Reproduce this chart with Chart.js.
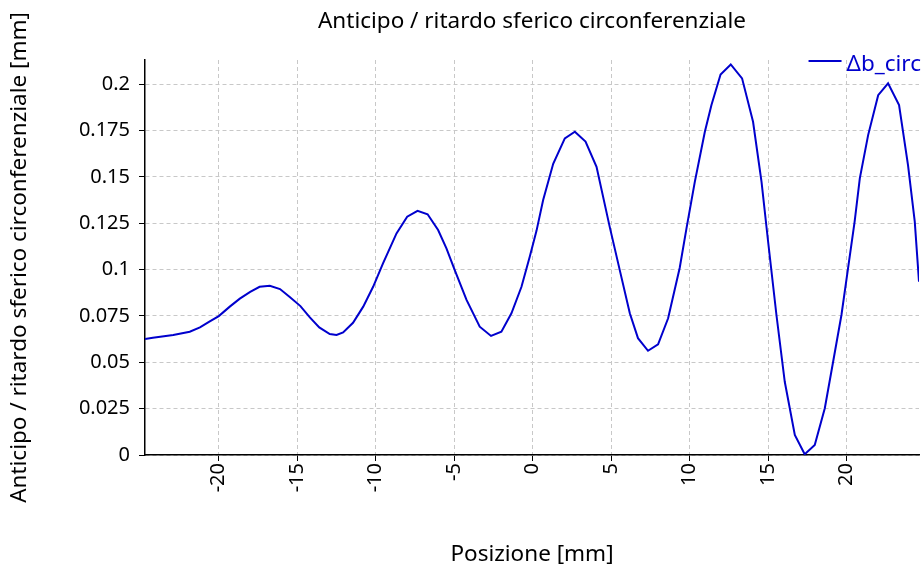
<!DOCTYPE html>
<html>
<head>
<meta charset="utf-8">
<script src="https://cdn.jsdelivr.net/npm/chart.js@4/dist/chart.umd.min.js"></script>
<style>
  html, body { margin: 0; padding: 0; background: #fff; }
  #wrap { width: 924px; height: 576px; }
</style>
</head>
<body>
<div id="wrap"><canvas id="chart" width="924" height="576"></canvas></div>
<script>
// values
const positions = [
  -24.7, -24.2, -22.9, -21.85, -21.2, -20.6, -20.0, -19.3, -18.66, -18.0,
  -17.4, -16.75, -16.1, -15.5, -14.8, -14.2, -13.6, -12.93, -12.5, -12.08,
  -11.45, -10.8, -10.17, -9.54, -8.68, -8.0, -7.34, -6.7, -6.03, -5.5,
  -4.97, -4.22, -3.38, -2.66, -2.0, -1.36, -0.72, -0.19, 0.24, 0.66,
  1.3, 2.04, 2.68, 3.36, 4.06, 4.9, 5.54, 6.18, 6.7, 7.34,
  7.98, 8.62, 9.36, 9.79, 10.32, 10.96, 11.38, 11.96, 12.61, 13.33,
  14.03, 14.57, 14.99, 15.52, 16.05, 16.69, 17.32, 17.96, 18.6, 19.13,
  19.66, 20.08, 20.5, 20.83, 21.36, 22.0, 22.63, 23.33, 23.9, 24.33, 24.6
];
const deltaCirc = [
  0.0625, 0.0632, 0.0647, 0.0665, 0.0688, 0.0719, 0.0749, 0.0800, 0.0843, 0.0880,
  0.0907, 0.0913, 0.0895, 0.0853, 0.0803, 0.0742, 0.0688, 0.0652, 0.0647, 0.0661,
  0.0713, 0.0800, 0.0907, 0.1033, 0.1195, 0.1285, 0.1317, 0.1298, 0.1213, 0.1114,
  0.0997, 0.0836, 0.0692, 0.0642, 0.0665, 0.0764, 0.0907, 0.1070, 0.1210, 0.1375,
  0.1570, 0.1707, 0.1743, 0.1690, 0.1554, 0.1230, 0.0997, 0.0764, 0.0630, 0.0562,
  0.0597, 0.0737, 0.1010, 0.1222, 0.1473, 0.1743, 0.1887, 0.2052, 0.2106, 0.2031,
  0.1797, 0.1473, 0.1150, 0.0755, 0.0395, 0.0108, 0.0004, 0.0054, 0.0252, 0.0503,
  0.0755, 0.1006, 0.1258, 0.1492, 0.1725, 0.1940, 0.2004, 0.1887, 0.1563, 0.1258, 0.0934
];
const seriesName = 'Δb_circ';
const chartTitle = 'Anticipo / ritardo sferico circonferenziale';
const xTitle = 'Posizione [mm]';
const yTitle = 'Anticipo / ritardo sferico circonferenziale [mm]';

const points = positions.map((p, i) => ({ x: p, y: deltaCirc[i] }));

// title centred over the plot area, legend in the top right corner over the plot
const overlay = {
  id: 'overlay',
  afterDraw(chart) {
    const ctx = chart.ctx;
    const area = chart.chartArea;
    const ds = chart.data.datasets[0];
    ctx.save();
    ctx.font = '22.5px "Noto Sans"';
    ctx.textBaseline = 'middle';

    ctx.fillStyle = '#000';
    ctx.textAlign = 'center';
    ctx.fillText(chartTitle, (area.left + area.right) / 2, 22);

    const y = area.top + 5;
    const right = chart.width - 3;
    ctx.textAlign = 'right';
    ctx.fillStyle = ds.borderColor;
    ctx.fillText(ds.label, right, y);
    const w = ctx.measureText(ds.label).width;
    ctx.strokeStyle = ds.borderColor;
    ctx.lineWidth = 2;
    ctx.beginPath();
    ctx.moveTo(right - w - 38, y - 4);
    ctx.lineTo(right - w - 5, y - 4);
    ctx.stroke();
    ctx.restore();
  }
};

Chart.defaults.font.family = '"Noto Sans", sans-serif';
Chart.defaults.font.size = 20;
Chart.defaults.color = '#000';

new Chart(document.getElementById('chart'), {
  type: 'line',
  data: {
    datasets: [{
      label: seriesName,
      data: points,
      borderColor: '#0000cd',
      borderWidth: 2,
      pointRadius: 0,
      tension: 0,
      fill: false
    }]
  },
  options: {
    responsive: false,
    animation: false,
    layout: { padding: { top: 60, right: 5 } },
    plugins: {
      legend: { display: false },
      tooltip: { enabled: false },
      title: { display: false }
    },
    scales: {
      x: {
        type: 'linear',
        min: -24.7,
        max: 24.6,
        afterFit: s => { s.height = 121; },
        ticks: {
          stepSize: 5,
          includeBounds: false,
          minRotation: 90,
          maxRotation: 90,
          padding: 2,
          callback: v => String(v)
        },
        grid: { color: '#c8c8c8', tickColor: '#000', tickLength: 6 },
        border: { display: true, color: '#000', width: 1.5, dash: [4, 3] },
        title: { display: true, text: xTitle, font: { size: 22.5 }, padding: { top: 0, bottom: 7.5 } }
      },
      y: {
        min: 0,
        max: 0.213,
        afterFit: s => { s.width = 145; },
        ticks: {
          stepSize: 0.025,
          includeBounds: false,
          padding: 9,
          callback: v => String(parseFloat(v.toFixed(4)))
        },
        grid: { color: '#c8c8c8', tickColor: '#000', tickLength: 6 },
        border: { display: true, color: '#000', width: 1.5, dash: [4, 3] },
        title: { display: true, text: yTitle, font: { size: 22.5 }, padding: { top: 6.5, bottom: 0 } }
      }
    }
  },
  plugins: [overlay]
});
</script>
</body>
</html>
